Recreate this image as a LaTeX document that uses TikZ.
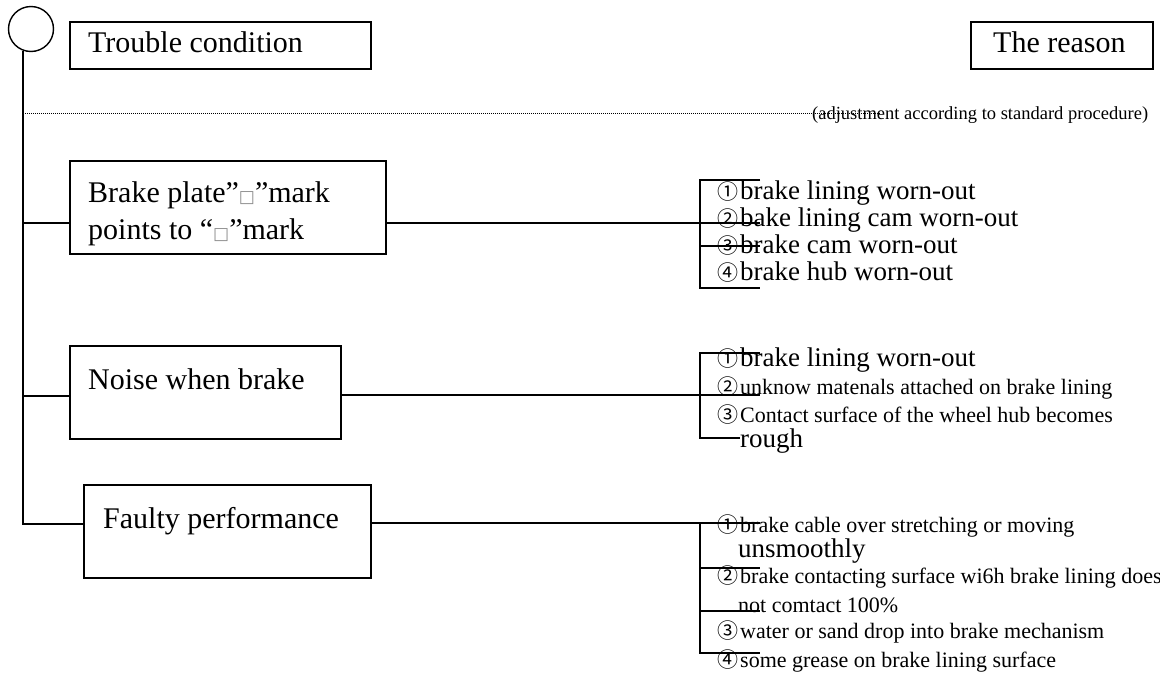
\documentclass[tikz,border=0pt]{standalone}
\usepackage{fontspec}
\setmainfont{Liberation Serif}
\newfontfamily\symfont{DejaVu Sans}
\newfontfamily\numfont{Noto Sans CJK SC}
% circled item number in a fixed-width slot
\newcommand\circnum[1]{\makebox[23pt][l]{\numfont\fontsize{21}{21}\selectfont #1}}
% grey mark symbol used inside quotes
\newcommand\marksym{{\symfont\color{black!45}\fontsize{17}{17}\selectfont □}}
\begin{document}
\begin{tikzpicture}[x=1pt,y=-1pt,
  box/.style={draw, rectangle, line width=1.6pt, inner sep=0pt, anchor=north west},
  conn/.style={line width=1.5pt},
  boxtext/.style={anchor=base west, inner sep=0pt, font=\fontsize{30}{36}\selectfont},
  bigitem/.style={anchor=base west, inner sep=0pt, font=\fontsize{27}{32}\selectfont},
  smallitem/.style={anchor=base west, inner sep=0pt, font=\fontsize{22}{26}\selectfont},
  note/.style={anchor=base west, inner sep=0pt, font=\fontsize{18.5}{22}\selectfont}]
\useasboundingbox (0,0) rectangle (1160,675);

% root circle and header boxes
\node[draw, circle, line width=1.4pt, minimum size=45pt, inner sep=0pt] (root) at (31,29) {};
\node[box, minimum width=301pt, minimum height=47pt] (tc) at (69,21) {};
\node[boxtext] (tc-t) at (88,52) {Trouble condition};
\node[box, minimum width=182pt, minimum height=47pt] (rs) at (970,21) {};
\node[boxtext] (rs-t) at (993,52) {The reason};

% trouble boxes
\node[box, minimum width=316pt, minimum height=93pt] (bp) at (69,160) {};
\node[boxtext] (bp-t1) at (88,202) {Brake plate”\marksym”mark};
\node[boxtext] (bp-t2) at (88,239) {points to “\marksym”mark};
\node[box, minimum width=271pt, minimum height=93pt] (nb) at (69,345) {};
\node[boxtext] (nb-t) at (88,389) {Noise when brake};
\node[box, minimum width=287pt, minimum height=93pt] (fp) at (83,484) {};
\node[boxtext] (fp-t) at (103,528) {Faulty performance};

% trunk and branches
\coordinate (j1) at (23,223);
\coordinate (j2) at (23,396);
\coordinate (j3) at (23,524);
\coordinate (d0) at (23,113);
\coordinate (d1) at (880,113);
\draw[conn] (root.-110) |- (fp.west |- j3);
\draw[conn] (root.-110 |- j1) -- (bp.west |- j1);
\draw[conn] (root.-110 |- j2) -- (nb.west |- j2);
\draw[line width=1pt, dash pattern=on 1pt off 1pt] (root.-110 |- d0) -- (d1);
\node[note] (adj) at (812,119) {(adjustment according to standard procedure)};

% group 1: brake plate mark
\coordinate (r1) at (760,223);
\draw[conn] (bp.east |- r1) -- (r1);
\draw[conn] (760,180) -- (700,180) -- (700,288) -- (760,288);
\draw[conn] (700,246) -- (760,246);
\node[bigitem] (g1a) at (717,199) {\circnum{①}brake lining worn-out};
\node[bigitem] (g1b) at (717,226) {\circnum{②}bake lining cam worn-out};
\node[bigitem] (g1c) at (717,253) {\circnum{③}brake cam worn-out};
\node[bigitem] (g1d) at (717,280) {\circnum{④}brake hub worn-out};

% group 2: noise
\coordinate (r2) at (760,395);
\draw[conn] (nb.east |- r2) -- (r2);
\draw[conn] (760,353) -- (700,353) -- (700,438) -- (740,438);
\node[bigitem] (g2a) at (717,366) {\circnum{①}brake lining worn-out};
\node[smallitem] (g2b) at (717,394) {\circnum{②}unknow matenals attached on brake lining};
\node[smallitem] (g2c) at (717,422) {\circnum{③}Contact surface of the wheel hub becomes};
\node[bigitem] (g2d) at (740,447) {rough};

% group 3: faulty performance
\coordinate (r3) at (760,523);
\draw[conn] (fp.east |- r3) -- (r3);
\draw[conn] (700,523) -- (700,653) -- (760,653);
\draw[conn] (700,568) -- (760,568);
\draw[conn] (700,611) -- (760,611);
\node[smallitem] (g3a) at (717,532) {\circnum{①}brake cable over stretching or moving};
\node[bigitem] (g3b) at (738,557) {unsmoothly};
\node[smallitem] (g3c) at (717,583) {\circnum{②}brake contacting surface wi6h brake lining does};
\node[smallitem] (g3d) at (738,612) {not comtact 100\%};
\node[smallitem] (g3e) at (717,638) {\circnum{③}water or sand drop into brake mechanism};
\node[smallitem] (g3f) at (717,667) {\circnum{④}some grease on brake lining surface};
\end{tikzpicture}
\end{document}
